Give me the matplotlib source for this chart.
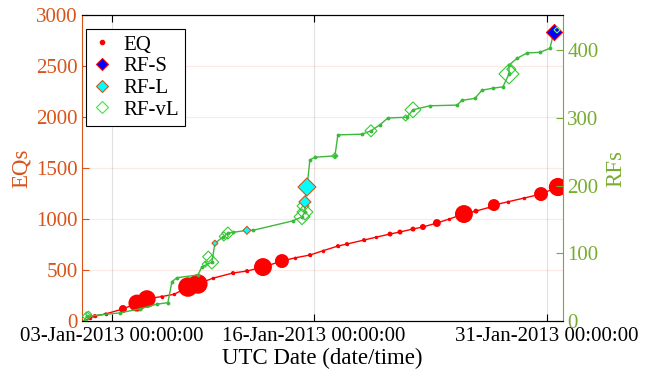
import matplotlib
matplotlib.use("Agg")
import matplotlib.pyplot as plt
import matplotlib.dates as mdates
from matplotlib.lines import Line2D
import numpy as np
from datetime import datetime

plt.rcParams['font.family'] = ['Liberation Serif', 'DejaVu Serif']

# --- data (day of January 2013, fractional) ---
eq_day = [1.2, 1.58, 1.9, 2.6, 3.71, 4.61, 5.25, 6.2, 7.0, 7.89, 8.53, 9.5, 10.79,
          11.69, 12.72, 13.94, 14.8, 15.74, 16.6, 17.54, 18.12, 19.22, 20.0, 20.89,
          21.53, 22.37, 23.01, 23.91, 24.7, 25.65, 26.42, 27.3, 27.58, 28.5, 29.5,
          30.61, 31.70, 31.95]
eq_count = [0, 29, 49, 70, 118, 176, 216, 240, 262, 333, 363, 420, 471,
            490, 529, 588, 620, 647, 690, 735, 755, 794, 822, 853,
            873, 902, 922, 961, 1000, 1049, 1078, 1115, 1137, 1170, 1205,
            1245, 1314, 1330]
eq_mag = [1.4, 2.4, 2.4, 2.0, 3.4, 4.5, 4.55, 1.8, 1.8, 4.7, 4.7, 1.8, 2.4,
          2.4, 4.58, 4.22, 1.6, 2.4, 1.6, 2.4, 2.4, 2.4, 1.6, 2.7,
          2.7, 2.7, 3.0, 3.4, 1.6, 4.58, 2.7, 2.2, 4.0, 1.6, 1.6,
          4.22, 4.6, 1.6]

rf_day = [1.2, 1.39, 3.51, 4.80, 5.90, 6.60, 6.86, 7.18, 8.53, 8.79, 9.43, 9.63,
          10.14, 10.46, 10.79, 11.69, 12.07, 14.65, 15.23, 15.42, 15.42, 15.55,
          15.74, 16.06, 17.35, 17.54, 19.09, 19.67, 20.25, 20.76, 21.98, 22.37,
          23.46, 25.20, 25.52, 26.36, 26.81, 27.52, 28.16, 28.55, 28.55, 29.06,
          29.71, 30.54, 31.19, 31.38, 31.44, 31.64]
rf_count = [0, 7, 12, 18, 25, 27, 58, 64, 68, 80, 87, 115,
            124, 130, 131, 134, 134, 148, 154, 161, 176, 198,
            238, 242, 244, 275, 276, 281, 290, 300, 301, 312,
            318, 319, 326, 329, 341, 344, 346, 365, 378, 388,
            396, 397, 403, 422, 427, 430]

vl_day = [1.39, 1.5, 9.43, 9.2, 10.46, 10.2, 15.23, 15.42, 15.3, 17.35, 19.67,
          22.37, 28.55, 28.7, 31.64, 9.0, 21.9]
vl_count = [7, 10, 87, 95, 130, 125, 154, 161, 170, 244, 281,
            312, 365, 372, 430, 84, 300]
vl_mag = [3.6, 3.0, 4.2, 3.9, 4.0, 3.6, 4.4, 4.4, 4.0, 3.0, 4.0,
          4.4, 4.74, 3.6, 3.0, 3.0, 3.0]

l_day = [9.63, 11.69, 15.42, 15.55]
l_count = [115, 134, 176, 198]
l_mag = [3.0, 3.4, 4.0, 4.58]

s_day = [31.44]
s_count = [427]
s_mag = [4.42]

x_ticks = [3, 16, 31]
eq_ticks = [0, 500, 1000, 1500, 2000, 2500, 3000]
rf_ticks = [0, 100, 200, 300, 400]

C_EQ_AX = '#d95319'
C_RF_AX = '#77ac30'
C_RF = '#3db83a'


def to_date(days):
    base = mdates.date2num(datetime(2013, 1, 1))
    return base + np.asarray(days, dtype=float) - 1.0


def px(mag):
    # marker half-size in pixels from magnitude
    return 1.5 * 2.0 ** (np.asarray(mag) - 2.0)


fig = plt.figure(figsize=(6.45, 3.77), dpi=100)
ax = fig.add_axes([0.127, 0.1485, 0.746, 0.8115])
ax2 = ax.twinx()

# EQs
ax.plot(to_date(eq_day), eq_count, '-', color='red', lw=1, marker='.', ms=3, zorder=2)
ax.scatter(to_date(eq_day), eq_count, s=(1.44 * px(eq_mag)) ** 2, color='red',
           edgecolors='none', zorder=3)

# RFs
ax2.plot(to_date(rf_day), rf_count, '-', color=C_RF, lw=1, marker='.', ms=3.5, zorder=2)
ax2.scatter(to_date(vl_day), vl_count, s=(px(vl_mag) / 0.982) ** 2, marker='D',
            facecolors='none', edgecolors='#33cc33', linewidths=0.8, zorder=3)
ax2.scatter(to_date(l_day), l_count, s=(px(l_mag) / 0.982) ** 2, marker='D',
            facecolors='cyan', edgecolors=C_EQ_AX, linewidths=0.8, zorder=4)
ax2.scatter(to_date(s_day), s_count, s=(px(s_mag) / 0.982) ** 2, marker='D',
            facecolors='blue', edgecolors='red', linewidths=0.8, zorder=4)
# small vL on top of RF-S
ax2.scatter(to_date([31.64]), [430], s=(px(3.0) / 0.982) ** 2, marker='D',
            facecolors='none', edgecolors='#66ff66', linewidths=0.8, zorder=5)

ax.set_xlim(to_date(1.07), to_date(32.03))
ax.set_ylim(0, 3000)
ax2.set_ylim(0, 452)

ax.set_xticks(to_date(x_ticks))
ax.xaxis.set_major_formatter(mdates.DateFormatter('%d-%b-%Y %H:%M:%S'))
ax.set_yticks(eq_ticks)
ax2.set_yticks(rf_ticks)

fs = 15
lfs = 16.5
ax.tick_params(axis='x', direction='in', top=True, length=5, width=0.8,
               labelsize=fs, colors='black', pad=4)
ax.tick_params(axis='y', direction='in', length=5, width=0.8, labelsize=fs,
               colors=C_EQ_AX, pad=3)
ax2.tick_params(axis='y', direction='in', length=5, width=0.8, labelsize=fs,
                colors=C_RF_AX, pad=3)

ax.xaxis.grid(True, color='#888888', alpha=0.25, lw=0.8)
ax.yaxis.grid(True, color=C_EQ_AX, alpha=0.12, lw=0.8)
ax.set_axisbelow(True)

for a in (ax, ax2):
    a.spines['top'].set_color('black')
    a.spines['bottom'].set_color('black')
    a.spines['top'].set_linewidth(0.8)
    a.spines['bottom'].set_linewidth(0.8)
ax.spines['right'].set_visible(False)
ax2.spines['left'].set_visible(False)
ax.spines['left'].set_color(C_EQ_AX)
ax2.spines['right'].set_color(C_RF_AX)

ax.set_xlabel('UTC Date (date/time)', fontsize=lfs, labelpad=2)
ax.set_ylabel('EQs', fontsize=lfs, color=C_EQ_AX, labelpad=3)
ax2.set_ylabel('RFs', fontsize=lfs, color=C_RF_AX, labelpad=5)

handles = [
    Line2D([], [], ls='none', marker='.', color='red', ms=6),
    Line2D([], [], ls='none', marker='D', mfc='blue', mec='red', ms=6, mew=0.8),
    Line2D([], [], ls='none', marker='D', mfc='cyan', mec=C_EQ_AX, ms=6, mew=0.8),
    Line2D([], [], ls='none', marker='D', mfc='none', mec='#33ee33', ms=6, mew=0.8),
]
leg = ax2.legend(handles, ['EQ', 'RF-S', 'RF-L', 'RF-vL'], loc='upper left',
                 bbox_to_anchor=(0.008, 0.955), fontsize=fs, frameon=True,
                 fancybox=False, edgecolor='black', framealpha=1,
                 handlelength=1.0, handletextpad=0.5, borderpad=0.3,
                 labelspacing=0.1, borderaxespad=0.0)
leg.get_frame().set_linewidth(0.8)

fig.savefig('out.png', dpi=100)
